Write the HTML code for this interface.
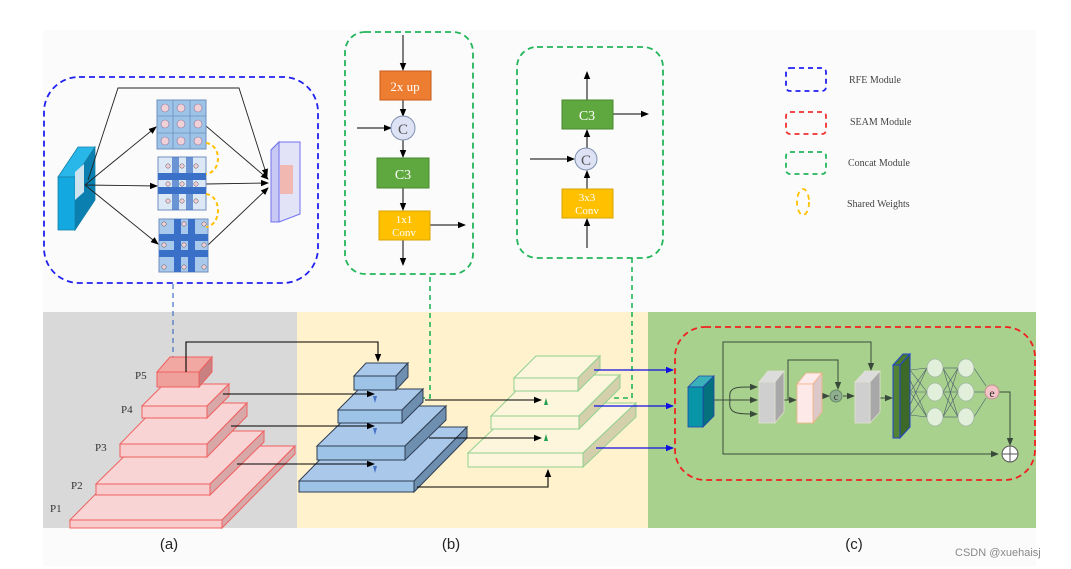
<!DOCTYPE html>
<html><head><meta charset="utf-8"><style>html,body{margin:0;padding:0;background:#fff}svg{display:block}</style></head><body>
<svg width="1071" height="569" viewBox="0 0 1071 569" xmlns="http://www.w3.org/2000/svg" font-family="Liberation Serif, serif">
<defs>
<marker id="a" markerWidth="8" markerHeight="8" refX="7" refY="4" orient="auto" markerUnits="userSpaceOnUse"><path d="M0,0.8 L8,4 L0,7.2z" fill="#000"/></marker>
<marker id="ab" markerWidth="8" markerHeight="8" refX="7" refY="4" orient="auto" markerUnits="userSpaceOnUse"><path d="M0,0.8 L8,4 L0,7.2z" fill="#1010e0"/></marker>
<marker id="ag" markerWidth="8" markerHeight="8" refX="7" refY="4" orient="auto" markerUnits="userSpaceOnUse"><path d="M0,0.8 L8,4 L0,7.2z" fill="#3a4a3a"/></marker>
</defs>
<rect x="43" y="30" width="993" height="536" fill="#fbfbfb"/>
<!-- panels -->
<rect x="43" y="312" width="254" height="216" fill="#d9d9d9"/>
<rect x="297" y="312" width="351" height="216" fill="#fff2cc"/>
<rect x="648" y="312" width="388" height="216" fill="#a9d18e"/>

<!-- RFE module -->
<rect x="44" y="77" width="274" height="206" rx="35" fill="none" stroke="#2020f0" stroke-width="1.8" stroke-dasharray="6,4"/>
<line x1="173" y1="284" x2="173" y2="357" stroke="#4472c4" stroke-width="1.2" stroke-dasharray="5,4"/>
<polygon points="58,177 78,147 95,147 75,177" fill="#29b6e8" stroke="#1680a8" stroke-width="0.8"/>
<polygon points="75,177 95,147 95,200 75,230" fill="#0a7fb0" stroke="#1680a8" stroke-width="0.8"/>
<rect x="58" y="177" width="17" height="53" fill="#13a9e0" stroke="#1680a8" stroke-width="0.8"/>
<polygon points="75,172 84,164 84,192 75,200" fill="#cde3ee"/>
<g stroke="#222" stroke-width="0.9" fill="none">
<polyline points="88,180 118,88 239,88 267,176" marker-end="url(#a)"/>
<line x1="85" y1="185" x2="156" y2="127" marker-end="url(#a)"/>
<line x1="85" y1="185" x2="157" y2="186" marker-end="url(#a)"/>
<line x1="85" y1="185" x2="158" y2="244" marker-end="url(#a)"/>
<line x1="206" y1="126" x2="268" y2="179" marker-end="url(#a)"/>
<line x1="206" y1="184" x2="268" y2="183" marker-end="url(#a)"/>
<line x1="208" y1="245" x2="268" y2="188" marker-end="url(#a)"/>
</g>
<!-- grid top -->
<rect x="157" y="100" width="49" height="49" fill="#9dc3e6" stroke="#6f8fbf"/>
<g stroke="#6f8fbf" stroke-width="0.8"><line x1="173" y1="100" x2="173" y2="149"/><line x1="190" y1="100" x2="190" y2="149"/><line x1="157" y1="116" x2="206" y2="116"/><line x1="157" y1="133" x2="206" y2="133"/></g>
<g fill="#f2d0d8" stroke="#8a7aa0" stroke-width="0.6"><circle cx="165" cy="108" r="4"/><circle cx="181" cy="108" r="4"/><circle cx="198" cy="108" r="4"/><circle cx="165" cy="124" r="4"/><circle cx="181" cy="124" r="4"/><circle cx="198" cy="124" r="4"/><circle cx="165" cy="141" r="4"/><circle cx="181" cy="141" r="4"/><circle cx="198" cy="141" r="4"/></g>
<!-- grid mid -->
<rect x="158" y="157" width="48" height="53" fill="#dce8f6" stroke="#6f8fbf"/>
<rect x="158" y="173" width="48" height="7" fill="#3a70c8"/><rect x="158" y="187" width="48" height="7" fill="#3a70c8"/>
<rect x="172" y="157" width="7" height="53" fill="#3a70c8" opacity="0.7"/><rect x="186" y="157" width="7" height="53" fill="#3a70c8" opacity="0.7"/>
<g fill="#f2d0d8" stroke="#555" stroke-width="0.5"><circle cx="168" cy="166" r="2.2"/><circle cx="182" cy="166" r="2.2"/><circle cx="196" cy="166" r="2.2"/><circle cx="168" cy="184" r="2.2"/><circle cx="182" cy="184" r="2.2"/><circle cx="196" cy="184" r="2.2"/><circle cx="168" cy="201" r="2.2"/><circle cx="182" cy="201" r="2.2"/><circle cx="196" cy="201" r="2.2"/></g>
<!-- grid bottom -->
<rect x="159" y="219" width="49" height="53" fill="#a8c8ec" stroke="#6f8fbf"/>
<rect x="159" y="234" width="49" height="7" fill="#3a70c8"/><rect x="159" y="250" width="49" height="7" fill="#3a70c8"/>
<rect x="174" y="219" width="7" height="53" fill="#3a70c8"/><rect x="188" y="219" width="7" height="53" fill="#3a70c8"/>
<g fill="#f2d0d8" stroke="#555" stroke-width="0.5"><circle cx="164" cy="224" r="2.2"/><circle cx="184" cy="224" r="2.2"/><circle cx="204" cy="224" r="2.2"/><circle cx="164" cy="245" r="2.2"/><circle cx="184" cy="245" r="2.2"/><circle cx="204" cy="245" r="2.2"/><circle cx="164" cy="267" r="2.2"/><circle cx="184" cy="267" r="2.2"/><circle cx="204" cy="267" r="2.2"/></g>
<path d="M206,143 C222,145 222,172 206,174" fill="none" stroke="#ffc000" stroke-width="2" stroke-dasharray="4,3"/>
<path d="M206,194 C222,196 222,225 206,227" fill="none" stroke="#ffc000" stroke-width="2" stroke-dasharray="4,3"/>
<!-- output plane -->
<polygon points="271,150 279,142 300,142 300,214 279,222 271,222" fill="#e3e3f7" stroke="#7070f0"/>
<polygon points="271,150 279,142 279,222 271,222" fill="#c8c8f5" stroke="#7070f0"/>
<rect x="280" y="165" width="13" height="29" fill="#f0b8b0"/>

<!-- Concat 1 -->
<rect x="345" y="32" width="128" height="242" rx="20" fill="none" stroke="#22b55a" stroke-width="1.8" stroke-dasharray="6,4"/>
<g stroke="#000" stroke-width="1" fill="none">
<line x1="403" y1="35" x2="403" y2="70" marker-end="url(#a)"/>
<line x1="403" y1="100" x2="403" y2="116" marker-end="url(#a)"/>
<line x1="357" y1="128" x2="391" y2="128" marker-end="url(#a)"/>
<line x1="403" y1="140" x2="403" y2="157" marker-end="url(#a)"/>
<line x1="403" y1="188" x2="403" y2="210" marker-end="url(#a)"/>
<line x1="430" y1="225" x2="465" y2="225" marker-end="url(#a)"/>
<line x1="403" y1="240" x2="403" y2="265" marker-end="url(#a)"/>
</g>
<rect x="380" y="71" width="51" height="29" fill="#ed7d31" stroke="#c65a1a"/>
<text x="405" y="91" font-size="13" fill="#fff" text-anchor="middle">2x up</text>
<circle cx="403" cy="128" r="12" fill="#dde3f5" stroke="#7f8fb0"/>
<text x="403" y="134" font-size="15" fill="#555" text-anchor="middle">C</text>
<rect x="377" y="158" width="52" height="30" fill="#5fa83f" stroke="#4a8a2f"/>
<text x="403" y="179" font-size="14" fill="#fff" text-anchor="middle">C3</text>
<rect x="379" y="211" width="51" height="29" fill="#ffc000" stroke="#d9a300"/>
<text x="404" y="223" font-size="11" fill="#fff" text-anchor="middle">1x1</text>
<text x="404" y="236" font-size="11" fill="#fff" text-anchor="middle">Conv</text>

<!-- Concat 2 -->
<rect x="517" y="47" width="146" height="211" rx="20" fill="none" stroke="#22b55a" stroke-width="1.8" stroke-dasharray="6,4"/>
<g stroke="#000" stroke-width="1" fill="none">
<line x1="587" y1="100" x2="587" y2="72" marker-end="url(#a)"/>
<line x1="613" y1="114" x2="648" y2="114" marker-end="url(#a)"/>
<line x1="587" y1="148" x2="587" y2="130" marker-end="url(#a)"/>
<line x1="530" y1="159" x2="574" y2="159" marker-end="url(#a)"/>
<line x1="587" y1="189" x2="587" y2="171" marker-end="url(#a)"/>
<line x1="587" y1="248" x2="587" y2="219" marker-end="url(#a)"/>
</g>
<rect x="562" y="100" width="51" height="29" fill="#5fa83f" stroke="#4a8a2f"/>
<text x="587" y="120" font-size="14" fill="#fff" text-anchor="middle">C3</text>
<circle cx="586" cy="159" r="11" fill="#dde3f5" stroke="#7f8fb0"/>
<text x="586" y="165" font-size="15" fill="#555" text-anchor="middle">C</text>
<rect x="562" y="189" width="51" height="29" fill="#ffc000" stroke="#d9a300"/>
<text x="587" y="201" font-size="11" fill="#fff" text-anchor="middle">3x3</text>
<text x="587" y="214" font-size="11" fill="#fff" text-anchor="middle">Conv</text>

<!-- Legend -->
<g fill="none" stroke-width="1.8" stroke-dasharray="5,4">
<rect x="786" y="68" width="40" height="23" rx="4" stroke="#2020f0"/>
<rect x="786" y="112" width="40" height="22" rx="4" stroke="#f03030"/>
<rect x="786" y="152" width="40" height="22" rx="4" stroke="#22b55a"/>
<ellipse cx="803" cy="202" rx="6" ry="13" stroke="#ffc000"/>
</g>
<g font-size="10" fill="#444">
<text x="849" y="83">RFE Module</text>
<text x="850" y="125">SEAM Module</text>
<text x="848" y="166">Concat Module</text>
<text x="847" y="207">Shared Weights</text>
</g>

<!-- green dashed connectors -->
<g stroke="#22b55a" stroke-width="1.6" stroke-dasharray="5,4" fill="none">
<polyline points="430,277 430,398 375,398"/>
<polyline points="632,258 632,398 546,398"/>
</g>

<!-- pyramid a -->
<g stroke="#f06060" stroke-width="1">
<polygon points="70,520 143,446 295,446 222,520" fill="#f8d4d4"/><polygon points="222,520 295,446 295,454 222,528" fill="#d8a8a8"/><rect x="70" y="520" width="152" height="8" fill="#f8cccc"/>
<polygon points="96,484 150,431 264,431 210,484" fill="#f8d4d4"/><polygon points="210,484 264,431 264,442 210,495" fill="#d8a8a8"/><rect x="96" y="484" width="114" height="11" fill="#f8cccc"/>
<polygon points="120,444 160,403 247,403 207,444" fill="#f8d4d4"/><polygon points="207,444 247,403 247,416 207,457" fill="#d8a8a8"/><rect x="120" y="444" width="87" height="13" fill="#f8cccc"/>
<polygon points="142,406 164,384 229,384 207,406" fill="#f8d4d4"/><polygon points="207,406 229,384 229,396 207,418" fill="#d8a8a8"/><rect x="142" y="406" width="65" height="12" fill="#f8cccc"/>
<polygon points="157,372 170,357 212,357 199,372" fill="#f2a8a2"/><polygon points="199,372 212,357 212,372 199,387" fill="#c88080"/><rect x="157" y="372" width="42" height="15" fill="#f0a09a"/>
</g>
<g font-size="11" fill="#333"><text x="135" y="379">P5</text><text x="121" y="413">P4</text><text x="95" y="451">P3</text><text x="71" y="489">P2</text><text x="50" y="512">P1</text></g>

<!-- pyramid b -->
<g stroke="#2f3f55" stroke-width="1">
<polygon points="299,481 352,427 467,427 414,481" fill="#aac8ea"/><polygon points="414,481 467,427 467,438 414,492" fill="#6f8fb0"/><rect x="299" y="481" width="115" height="11" fill="#9dc3e6"/>
<polygon points="317,446 358,406 446,406 405,446" fill="#aac8ea"/><polygon points="405,446 446,406 446,420 405,460" fill="#6f8fb0"/><rect x="317" y="446" width="88" height="14" fill="#9dc3e6"/>
<polygon points="338,410 359,389 423,389 402,410" fill="#aac8ea"/><polygon points="402,410 423,389 423,402 402,423" fill="#6f8fb0"/><rect x="338" y="410" width="64" height="13" fill="#9dc3e6"/>
<polygon points="354,376 366,363 408,363 396,376" fill="#aac8ea"/><polygon points="396,376 408,363 408,377 396,390" fill="#6f8fb0"/><rect x="354" y="376" width="42" height="14" fill="#9dc3e6"/>
</g>

<!-- pyramid c -->
<g stroke="#90d090" stroke-width="1">
<polygon points="468,453 521,403 636,403 583,453" fill="#fdf6dc"/><polygon points="583,453 636,403 636,417 583,467" fill="#d4d0ac"/><rect x="468" y="453" width="115" height="14" fill="#fdf6dc"/>
<polygon points="491,416 532,375 620,375 579,416" fill="#fdf6dc"/><polygon points="579,416 620,375 620,388 579,429" fill="#d4d0ac"/><rect x="491" y="416" width="88" height="13" fill="#fdf6dc"/>
<polygon points="514,378 536,356 600,356 578,378" fill="#fdf6dc"/><polygon points="578,378 600,356 600,369 578,391" fill="#d4d0ac"/><rect x="514" y="378" width="64" height="13" fill="#fdf6dc"/>
</g>

<!-- black arrows -->
<g stroke="#000" stroke-width="1.1" fill="none">
<polyline points="186,372 186,342 378,342 378,361" marker-end="url(#a)"/>
<line x1="223" y1="394" x2="374" y2="394" marker-end="url(#a)"/>
<line x1="231" y1="426" x2="374" y2="426" marker-end="url(#a)"/>
<line x1="237" y1="464" x2="374" y2="464" marker-end="url(#a)"/>
<line x1="425" y1="400" x2="541" y2="400" marker-end="url(#a)"/>
<line x1="429" y1="438" x2="541" y2="438" marker-end="url(#a)"/>
<polyline points="417,487 548,487 548,470" marker-end="url(#a)"/>
</g>
<g fill="#4472c4"><path d="M373,396 l4,0 l-2,7z"/><path d="M373,428 l4,0 l-2,7z"/><path d="M373,466 l4,0 l-2,7z"/></g>
<g fill="#22a050"><path d="M544,405 l4,0 l-2,-7z"/><path d="M544,441 l4,0 l-2,-7z"/></g>
<!-- blue lines -->
<g stroke="#1010e0" stroke-width="1.3" fill="none">
<line x1="594" y1="370" x2="673" y2="370" marker-end="url(#ab)"/>
<line x1="594" y1="406" x2="673" y2="406" marker-end="url(#ab)"/>
<line x1="596" y1="448" x2="673" y2="448" marker-end="url(#ab)"/>
</g>

<!-- SEAM -->
<rect x="675" y="327" width="360" height="153" rx="30" fill="none" stroke="#f02020" stroke-width="1.8" stroke-dasharray="6,4"/>
<g stroke="#3a4a3a" stroke-width="1" fill="none">
<polyline points="723,400 723,342 871,342 871,370" marker-end="url(#ag)"/>
<polyline points="723,400 723,454 998,454" marker-end="url(#ag)"/>
<line x1="714" y1="400" x2="757" y2="400" marker-end="url(#ag)"/>
<path d="M730,400 C728,386 736,387 757,387" marker-end="url(#ag)"/>
<path d="M730,400 C728,414 736,414 757,414" marker-end="url(#ag)"/>
<line x1="779" y1="400" x2="796" y2="400" marker-end="url(#ag)"/>
<polyline points="788,400 788,360 838,360 838,389" marker-end="url(#ag)"/>
<line x1="822" y1="396" x2="829" y2="396" marker-end="url(#ag)"/>
<line x1="843" y1="396" x2="854" y2="396" marker-end="url(#ag)"/>
<line x1="880" y1="398" x2="892" y2="398" marker-end="url(#ag)"/>
<polyline points="999,392 1010,392 1010,445" marker-end="url(#ag)"/>
</g>
<polygon points="688,387 699,376 714,376 703,387" fill="#3ab0b8" stroke="#2244aa" stroke-width="0.8"/>
<polygon points="703,387 714,376 714,416 703,427" fill="#05707e" stroke="#2244aa" stroke-width="0.8"/>
<rect x="688" y="387" width="15" height="40" fill="#0895a8" stroke="#2244aa" stroke-width="0.8"/>
<g stroke="#e0e0d0" stroke-width="0.8">
<polygon points="759,382 768,371 784,371 775,382" fill="#dcdcdc"/><polygon points="775,382 784,371 784,412 775,423" fill="#a8a8a8"/><rect x="759" y="382" width="16" height="41" fill="#cfcfcf"/>
<polygon points="855,382 865,371 880,371 870,382" fill="#dcdcdc"/><polygon points="870,382 880,371 880,412 870,423" fill="#a8a8a8"/><rect x="855" y="382" width="15" height="41" fill="#cfcfcf"/>
</g>
<g stroke="#f4b183" stroke-width="0.8">
<polygon points="797,384 806,373 822,373 813,384" fill="#fdeaea"/><polygon points="813,384 822,373 822,412 813,423" fill="#dcc8c8"/><rect x="797" y="384" width="16" height="39" fill="#fde9e8"/>
</g>
<circle cx="836" cy="396" r="6" fill="#8fb08f" stroke="#6a8a6a"/>
<text x="836" y="400" font-size="10" fill="#333" text-anchor="middle">c</text>
<polygon points="893,365 903,354 910,354 900,365" fill="#4a7a30" stroke="#2244cc"/>
<polygon points="900,365 910,354 910,427 900,438" fill="#3d6a28" stroke="#2244cc"/>
<rect x="893" y="365" width="7" height="73" fill="#548235" stroke="#2244cc"/>
<g stroke="#4a5a6a" stroke-width="0.6">
<line x1="910" y1="370" x2="927" y2="368"/><line x1="910" y1="370" x2="927" y2="392"/><line x1="910" y1="392" x2="927" y2="368"/><line x1="910" y1="392" x2="927" y2="392"/><line x1="910" y1="392" x2="927" y2="417"/><line x1="910" y1="415" x2="927" y2="392"/><line x1="910" y1="415" x2="927" y2="417"/><line x1="910" y1="380" x2="927" y2="417"/><line x1="910" y1="405" x2="927" y2="368"/>
<line x1="943" y1="368" x2="958" y2="368"/><line x1="943" y1="368" x2="958" y2="392"/><line x1="943" y1="392" x2="958" y2="368"/><line x1="943" y1="392" x2="958" y2="392"/><line x1="943" y1="392" x2="958" y2="417"/><line x1="943" y1="417" x2="958" y2="392"/><line x1="943" y1="417" x2="958" y2="417"/><line x1="943" y1="368" x2="958" y2="417"/><line x1="943" y1="417" x2="958" y2="368"/>
<line x1="974" y1="368" x2="986" y2="386"/><line x1="974" y1="392" x2="985" y2="392"/><line x1="974" y1="417" x2="986" y2="398"/>
</g>
<g fill="#e2efda" stroke="#a0b8a0" stroke-width="0.8">
<ellipse cx="935" cy="368" rx="8" ry="9"/><ellipse cx="935" cy="392" rx="8" ry="9"/><ellipse cx="935" cy="417" rx="8" ry="9"/>
<ellipse cx="966" cy="368" rx="8" ry="9"/><ellipse cx="966" cy="392" rx="8" ry="9"/><ellipse cx="966" cy="417" rx="8" ry="9"/>
</g>
<circle cx="992" cy="392" r="7" fill="#f4c4c8" stroke="#c09090"/>
<text x="992" y="397" font-size="12" fill="#333" text-anchor="middle">e</text>
<circle cx="1010" cy="454" r="8" fill="#fff" stroke="#555"/>
<line x1="1002" y1="454" x2="1018" y2="454" stroke="#555"/><line x1="1010" y1="446" x2="1010" y2="462" stroke="#555"/>

<!-- labels -->
<g font-family="Liberation Sans, sans-serif" font-size="15" fill="#222" text-anchor="middle">
<text x="169" y="549">(a)</text><text x="451" y="549">(b)</text><text x="854" y="549">(c)</text>
</g>
<text x="955" y="556" font-family="Liberation Sans, sans-serif" font-size="11" fill="#888">CSDN @xuehaisj</text>
</svg>
</body></html>
